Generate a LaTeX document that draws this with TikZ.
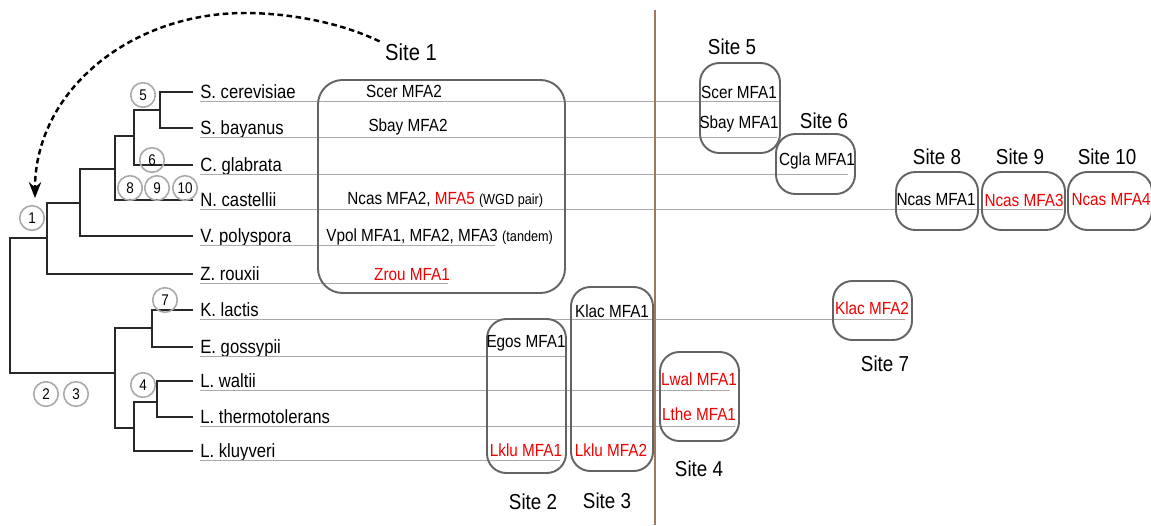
\documentclass[tikz,border=0pt]{standalone}
\usepackage{fontspec}
\setmainfont[FakeStretch=0.87]{Liberation Sans}
\usetikzlibrary{arrows.meta,fit}
\definecolor{treegray}{RGB}{40,40,40}
\definecolor{boxgray}{RGB}{100,100,100}
\definecolor{circgray}{RGB}{170,170,170}
\definecolor{guidegray}{RGB}{170,170,170}
\definecolor{sepbrown}{RGB}{160,120,95}
\definecolor{genered}{RGB}{240,0,0}
\begin{document}
\begin{tikzpicture}[x=0.02cm, y=-0.02cm,
    sp/.style={anchor=west, inner xsep=4pt, inner ysep=0pt, text height=7.8pt, text depth=0pt, font=\fontsize{10.9}{12}\selectfont},
    gene/.style={inner sep=0pt, font=\fontsize{10}{11}\selectfont},
    hit/.style={gene, text=genered},
    site/.style={inner sep=1pt, font=\fontsize{12.3}{13}\selectfont},
    sitebox/.style={draw=boxgray, line width=1.1pt, rounded corners=11pt, inner sep=0pt},
    num/.style={circle, draw=circgray, line width=0.9pt, minimum size=14pt, inner sep=0pt, font=\fontsize{8.8}{9}\selectfont},
    branch/.style={draw=treegray, line width=1.1pt},
    guide/.style={draw=guidegray, line width=0.45pt}]
    \useasboundingbox (0,0) rectangle (1151,525);

    % species
    \node[sp] (scer) at (193,92) {S. cerevisiae};
    \node[sp] (sbay) at (193,128) {S. bayanus};
    \node[sp] (cgla) at (193,165) {C. glabrata};
    \node[sp] (ncas) at (193,200) {N. castellii};
    \node[sp] (vpol) at (193,236) {V. polyspora};
    \node[sp] (zrou) at (193,274) {Z. rouxii};
    \node[sp] (klac) at (193,310) {K. lactis};
    \node[sp] (egos) at (193,347) {E. gossypii};
    \node[sp] (lwal) at (193,381) {L. waltii};
    \node[sp] (lthe) at (193,417) {L. thermotolerans};
    \node[sp] (lklu) at (193,451) {L. kluyveri};

    % row guides
    \draw[guide] ([xshift=4pt,yshift=-1pt]scer.south west) -- +(580,0);
    \draw[guide] ([xshift=4pt,yshift=-1pt]sbay.south west) -- +(577,0);
    \draw[guide] ([xshift=4pt,yshift=-1pt]cgla.south west) -- +(648,0);
    \draw[guide] ([xshift=4pt,yshift=-1pt]ncas.south west) -- +(863,0);
    \draw[guide] ([xshift=4pt,yshift=-1pt]vpol.south west) -- +(295,0);
    \draw[guide] ([xshift=4pt,yshift=-1pt]zrou.south west) -- +(248,0);
    \draw[guide] ([xshift=4pt,yshift=-1pt]klac.south west) -- +(705,0);
    \draw[guide] ([xshift=4pt,yshift=-1pt]egos.south west) -- +(365,0);
    \draw[guide] ([xshift=4pt,yshift=-1pt]lwal.south west) -- +(530,0);
    \draw[guide] ([xshift=4pt,yshift=-1pt]lthe.south west) -- +(535,0);
    \draw[guide] ([xshift=4pt,yshift=-1pt]lklu.south west) -- +(360,0);

    % tree
    \coordinate (n5) at (160,110);
    \coordinate (n6) at (134,136);
    \coordinate (n8) at (115,169);
    \coordinate (n9) at (80,203);
    \coordinate (n10) at (47,238);
    \coordinate (root) at (10,373);
    \coordinate (nlow) at (115,373);
    \coordinate (nkl) at (152,328);
    \coordinate (nlt) at (134,428);
    \coordinate (nwt) at (157,402);
    \draw[branch] (scer.west) -| (n5) |- (sbay.west);
    \draw[branch] (n5) -| (n6) |- (cgla.west);
    \draw[branch] (n6) -| (n8) |- (ncas.west);
    \draw[branch] (n8) -| (n9) |- (vpol.west);
    \draw[branch] (n9) -| (n10) |- (zrou.west);
    \draw[branch] (n10) -| (root) -- (nlow);
    \draw[branch] (nkl) -| (nlow) |- (nlt);
    \draw[branch] (klac.west) -| (nkl) |- (egos.west);
    \draw[branch] (lwal.west) -| (nwt) |- (lthe.west);
    \draw[branch] (nwt) -| (nlt) |- (lklu.west);

    % event numbers
    \node[num] (c1) at (32,218) {1};
    \node[num] (c2) at (46,394) {2};
    \node[num] (c3) at (76,394) {3};
    \node[num] (c4) at (143,385) {4};
    \node[num] (c5) at (143,95) {5};
    \node[num] (c6) at (152,160) {6};
    \node[num] (c7) at (165,300) {7};
    \node[num] (c8) at (130,188) {8};
    \node[num] (c9) at (157,188) {9};
    \node[num] (c10) at (185,188) {10};

    % separator
    \coordinate (sepT) at (655,10);
    \coordinate (sepB) at (655,525);
    \draw[draw=sepbrown, line width=1.2pt] (sepT) -- (sepB);

    % sites
    \node[sitebox, rounded corners=14pt, fit={(318,80) (565,293)}] (b1) {};
    \node[sitebox, fit={(487,319) (566,473)}] (b2) {};
    \node[sitebox, fit={(571,287) (653,471)}] (b3) {};
    \node[sitebox, fit={(660,352) (739,441)}] (b4) {};
    \node[sitebox, fit={(700,63) (780,153)}] (b5) {};
    \node[sitebox, fit={(776,134) (855,194)}] (b6) {};
    \node[sitebox, fit={(833,281) (912,340)}] (b7) {};
    \node[sitebox, fit={(896,172) (978,230)}] (b8) {};
    \node[sitebox, fit={(982,172) (1065,230)}] (b9) {};
    \node[sitebox, fit={(1068,172) (1152,230)}] (b10) {};

    \node[site, font=\fontsize{13.2}{14}\selectfont] (l1) at (411,52) {Site 1};
    \node[site] (l2) at (533,502) {Site 2};
    \node[site] (l3) at (607,501) {Site 3};
    \node[site] (l4) at (699,469) {Site 4};
    \node[site] (l5) at (732,47) {Site 5};
    \node[site] (l6) at (824,121) {Site 6};
    \node[site] (l7) at (885,364) {Site 7};
    \node[site] (l8) at (937,157) {Site 8};
    \node[site] (l9) at (1020,157) {Site 9};
    \node[site] (l10) at (1107,157) {Site 10};

    % genes
    \node[gene] (g1) at (404,91) {Scer MFA2};
    \node[gene] (g2) at (408,127) {Sbay MFA2};
    \node[gene, anchor=west] (g3) at (347,200) {Ncas MFA2, \textcolor{genered}{MFA5} {\fontsize{8.3}{9}\selectfont(WGD pair)}};
    \node[gene, anchor=west] (g4) at (326,237) {Vpol MFA1, MFA2, MFA3 {\fontsize{8.3}{9}\selectfont(tandem)}};
    \node[hit] (g5) at (412,275) {Zrou MFA1};
    \node[gene] (g6) at (526,343) {Egos MFA1};
    \node[hit] (g7) at (526,450) {Lklu MFA1};
    \node[gene] (g8) at (612,311) {Klac MFA1};
    \node[hit] (g9) at (611,450) {Lklu MFA2};
    \node[hit] (g10) at (699,379) {Lwal MFA1};
    \node[hit] (g11) at (699,414) {Lthe MFA1};
    \node[gene] (g12) at (739,92) {Scer MFA1};
    \node[gene] (g13) at (739,124) {Sbay MFA1};
    \node[gene] (g14) at (817,161) {Cgla MFA1};
    \node[hit] (g15) at (872,308) {Klac MFA2};
    \node[gene] (g16) at (936,200) {Ncas MFA1};
    \node[hit] (g17) at (1024,200) {Ncas MFA3};
    \node[hit] (g18) at (1111,200) {Ncas MFA4};

    % transfer arrow
    \coordinate (top) at (245,13);
    \coordinate (arrE) at (35,198);
    \draw[line width=1.4pt, dash pattern=on 3.2pt off 2pt, -{Stealth[length=9pt, width=7pt]}]
      ([xshift=-2pt]l1.north west) .. controls (335,20) and (282,13) .. (top)
      .. controls (129,13) and (35,92) .. (arrE);
\end{tikzpicture}
\end{document}
